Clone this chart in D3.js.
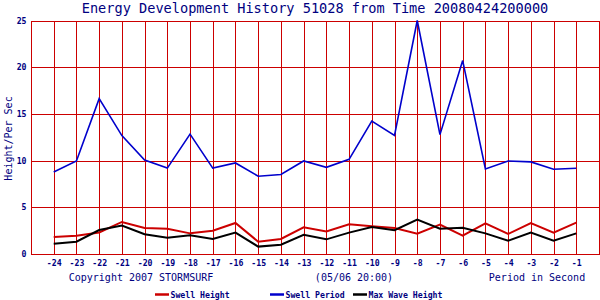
<!DOCTYPE html>
<html>
<head>
<meta charset="utf-8">
<script src="https://cdn.jsdelivr.net/npm/d3@7"></script>
<style>
html,body{margin:0;padding:0;background:#fff;}
svg{display:block;}
text{font-family:"DejaVu Sans Mono","Liberation Mono",monospace;fill:#000080;}
</style>
</head>
<body>
<svg id="chart" width="600" height="300"></svg>
<script>
const hours = [-24,-23,-22,-21,-20,-19,-18,-17,-16,-15,-14,-13,-12,-11,-10,-9,-8,-7,-6,-5,-4,-3,-2,-1];
const swellHeight = [1.82,1.96,2.3,3.43,2.79,2.71,2.21,2.5,3.32,1.32,1.61,2.85,2.42,3.18,2.96,2.79,2.18,3.14,1.96,3.29,2.14,3.32,2.29,3.36];
const swellPeriod = [8.77,9.96,16.63,12.68,10.07,9.2,12.83,9.2,9.75,8.33,8.51,9.96,9.28,10.14,14.23,12.7,25.0,12.78,20.71,9.11,9.96,9.86,9.07,9.18];
const maxWaveHeight = [1.11,1.32,2.57,3.04,2.11,1.75,2.0,1.61,2.29,0.79,1.0,2.05,1.57,2.29,2.89,2.54,3.68,2.71,2.82,2.21,1.43,2.29,1.43,2.21];
const yTicks = [0,5,10,15,20,25];
const xTickLabels = hours.map(String);
const titleText = "Energy Development History 51028 from Time 20080424200000";
const yTitle = "Height/Per Sec";
const footLeft = "Copyright 2007 STORMSURF";
const footMid = "(05/06 20:00)";
const footRight = "Period in Second";
const seriesNames = ["Swell Height","Swell Period","Max Wave Height"];
const seriesColors = ["#cc0000","#0000cc","#000000"];

const svg = d3.select("#chart");
const L = 31, R = 599, T = 20.5, B = 254;
const x = d3.scaleLinear().domain([-25,0]).range([L,R]);
const y = d3.scaleLinear().domain([0,25]).range([B,T]);
const grid = "#cc0000";

// grid
const g = svg.append("g").attr("shape-rendering","crispEdges");
g.selectAll("line.v").data(d3.range(-25,1)).enter().append("line")
  .attr("x1",d=>Math.round(x(d))+0.5).attr("x2",d=>Math.round(x(d))+0.5)
  .attr("y1",T).attr("y2",B).attr("stroke",grid).attr("stroke-width",1);
g.selectAll("line.h").data(yTicks).enter().append("line")
  .attr("x1",L).attr("x2",R+1).attr("y1",d=>Math.round(y(d))+0.5).attr("y2",d=>Math.round(y(d))+0.5)
  .attr("stroke",grid).attr("stroke-width",1);

// axes labels via d3 axes
const xAxis = d3.axisBottom(x).tickValues(hours).tickFormat((d,i)=>xTickLabels[i]).tickSize(0).tickPadding(0);
const xa = svg.append("g").attr("transform",`translate(0,${B+11.5})`).call(xAxis);
xa.select(".domain").remove();
xa.selectAll("text").attr("dy",0).attr("y",0).style("font-size","8.2px").style("font-weight","bold").attr("fill","#000080");

const yAxis = d3.axisLeft(y).tickValues(yTicks).tickSize(0).tickPadding(0);
const ya = svg.append("g").attr("transform",`translate(26.5,0)`).call(yAxis);
ya.select(".domain").remove();
ya.selectAll("text").attr("dy","0.32em").attr("x",0).style("font-size","8.2px").style("font-weight","bold").attr("fill","#000080");

// series
const allSeries = [swellHeight, swellPeriod, maxWaveHeight];
const line = d3.line().x((d,i)=>x(hours[i])).y(d=>y(d));
[0,2,1].forEach(k=>{
  svg.append("path").datum(allSeries[k]).attr("d",line)
    .attr("fill","none").attr("stroke",seriesColors[k])
    .attr("stroke-width",k===1?1.6:2).attr("stroke-linejoin","miter");
});

// title
svg.append("text").attr("x",315).attr("y",13).attr("text-anchor","middle")
  .style("font-size","13.6px").text(titleText);

// y title
svg.append("text").attr("transform","translate(11.5,138.5) rotate(-90)").attr("text-anchor","middle")
  .style("font-size","10px").text(yTitle);

// footer
svg.append("text").attr("x",141).attr("y",281).attr("text-anchor","middle").style("font-size","10px").text(footLeft);
svg.append("text").attr("x",354).attr("y",281).attr("text-anchor","middle").style("font-size","10px").text(footMid);
svg.append("text").attr("x",537).attr("y",281).attr("text-anchor","middle").style("font-size","10px").text(footRight);

// legend
const legX = [155,270,353];
seriesNames.forEach((n,i)=>{
  svg.append("line").attr("x1",legX[i]).attr("x2",legX[i]+14).attr("y1",294.5).attr("y2",294.5)
    .attr("stroke",seriesColors[i]).attr("stroke-width",2.5);
  svg.append("text").attr("x",legX[i]+15.5).attr("y",297.5).style("font-size","8.2px").style("font-weight","bold").text(n);
});
</script>
</body>
</html>
